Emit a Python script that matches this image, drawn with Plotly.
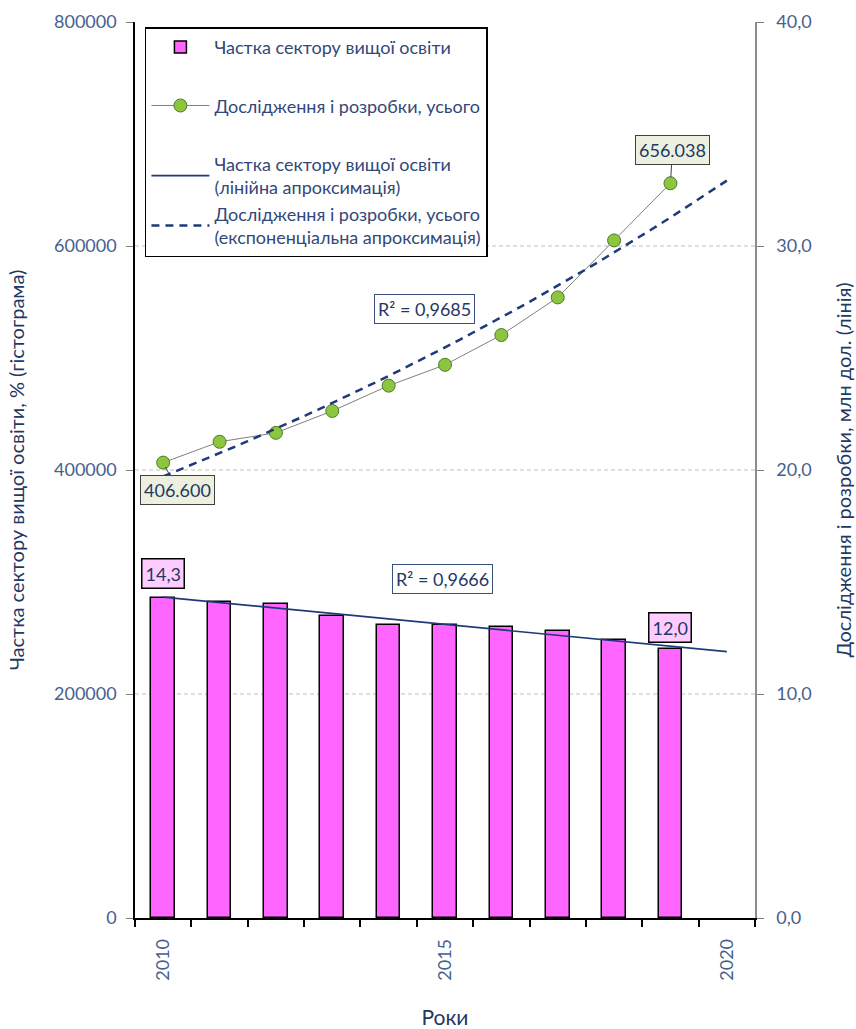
import numpy as np
import plotly.graph_objects as go

# --- data -------------------------------------------------------------
years = [2010, 2011, 2012, 2013, 2014, 2015, 2016, 2017, 2018, 2019]
# share of the higher-education sector, % (bars, right axis)
higher_ed_share = [14.3, 14.1, 14.0, 13.5, 13.1, 13.1, 13.0, 12.8, 12.4, 12.0]
# total R&D (line, left axis)
rnd_total = [406600, 425200, 433200, 452700, 475300, 493900, 520500, 554100, 605000, 656038]

trend_years = [2010, 2020]
r2_linear_text = "R² = 0,9666"
r2_exp_text = "R² = 0,9685"

left_ticks = [0, 200000, 400000, 600000, 800000]
left_grid = [200000, 400000, 600000]
right_ticks = [0, 10, 20, 30, 40]
x_label_years = [2010, 2015, 2020]
x_tick_edges = [2009.5 + i for i in range(12)]

# --- trend lines fitted to the series ---------------------------------
xs = np.array(years, dtype=float)
lin_coef = np.polyfit(xs - years[0], np.array(higher_ed_share), 1)
lin_x = np.array(trend_years, dtype=float)
lin_y = np.polyval(lin_coef, lin_x - years[0])

exp_coef = np.polyfit(xs - years[0], np.log(np.array(rnd_total, dtype=float)), 1)
exp_x = np.linspace(trend_years[0], trend_years[1], 41)
exp_y = np.exp(np.polyval(exp_coef, exp_x - years[0]))

FONT = "Lato"
NAVY = "#1F3864"
TICK = "#475F8E"
LEGEND_TXT = "#33487A"


def pct(v):
    return f"{v:.1f}".replace(".", ",")


def thousands(v):
    return f"{v:,}".replace(",", ".")


fig = go.Figure()

fig.add_trace(go.Bar(
    x=years, y=higher_ed_share, yaxis="y2", width=0.42,
    name="Частка сектору вищої освіти",
    marker=dict(color="#FF66FF", line=dict(color="black", width=1.5)),
    legendgroup="g1",
))
fig.add_trace(go.Scatter(
    x=years, y=rnd_total, mode="lines+markers",
    name="Дослідження і розробки, усього",
    line=dict(color="#7F7F7F", width=1),
    marker=dict(size=13, color="#8CC63F", line=dict(color="#4F7A28", width=1)),
    legendgroup="g2",
))
fig.add_trace(go.Scatter(
    x=lin_x, y=lin_y, yaxis="y2", mode="lines",
    name="Частка сектору вищої освіти<br>(лінійна апроксимація)",
    line=dict(color="#1F3A7A", width=1.6),
    legendgroup="g3",
))
fig.add_trace(go.Scatter(
    x=exp_x, y=exp_y, mode="lines",
    name="Дослідження і розробки, усього<br>(експоненціальна апроксимація)",
    line=dict(color="#1F3A7A", width=2.5, dash="8px,6px"),
    legendgroup="g3",
))

for g in left_grid:
    fig.add_hline(y=g, line=dict(color="#BDBDBD", width=1.2, dash="4px,3px"), layer="below")

lab_font = dict(family=FONT, size=18, color=NAVY)

# value labels
fig.add_annotation(x=years[0], y=higher_ed_share[0], yref="y2", text=pct(higher_ed_share[0]),
                   showarrow=False, yshift=24, font=lab_font,
                   bgcolor="#FFCCFF", bordercolor="black", borderwidth=1.5, borderpad=3)
fig.add_annotation(x=years[-1], y=higher_ed_share[-1], yref="y2", text=pct(higher_ed_share[-1]),
                   showarrow=False, yshift=22, font=lab_font,
                   bgcolor="#FFCCFF", bordercolor="black", borderwidth=1.5, borderpad=3)
fig.add_annotation(x=years[-1], y=rnd_total[-1], yref="y", text=thousands(rnd_total[-1]),
                   showarrow=True, ax=2, ay=-33, arrowhead=0, arrowwidth=1, arrowcolor="#404040",
                   standoff=6, font=lab_font,
                   bgcolor="#EDF0DF", bordercolor="#404040", borderwidth=1, borderpad=3)
fig.add_annotation(x=years[0], y=rnd_total[0], yref="y", text=thousands(rnd_total[0]),
                   showarrow=True, ax=14, ay=27, arrowhead=0, arrowwidth=1, arrowcolor="#404040",
                   standoff=5, font=lab_font,
                   bgcolor="#EDF0DF", bordercolor="#404040", borderwidth=1, borderpad=3)

# goodness-of-fit labels
fig.add_annotation(x=2014.64, y=543400, yref="y", text=r2_exp_text, showarrow=False,
                   font=lab_font, bgcolor="white", bordercolor="#3A5080", borderwidth=1, borderpad=3)
fig.add_annotation(x=2014.96, y=302500, yref="y", text=r2_linear_text, showarrow=False,
                   font=lab_font, bgcolor="white", bordercolor="#3A5080", borderwidth=1, borderpad=3)

fig.update_layout(
    width=856, height=1029,
    margin=dict(l=135, r=101, t=22, b=111, autoexpand=False),
    paper_bgcolor="white", plot_bgcolor="white",
    font=dict(family=FONT, size=18, color=TICK),
    bargap=0,
    showlegend=True,
    legend=dict(
        x=0.016, y=0.994, xanchor="left", yanchor="top",
        bgcolor="white", bordercolor="black", borderwidth=1.5,
        font=dict(family=FONT, size=18, color=LEGEND_TXT),
        tracegroupgap=32, traceorder="grouped", itemwidth=58,
    ),
    xaxis=dict(
        range=[2009.5, 2020.5],
        tickmode="array", tickvals=x_label_years, ticktext=[str(y) for y in x_label_years],
        tickangle=-90, ticks="", ticklabelstandoff=12,
        minor=dict(tickmode="array", tickvals=x_tick_edges, ticks="outside",
                   ticklen=7, tickcolor="black", tickwidth=1.5),
        showline=True, linecolor="black", linewidth=1.5,
        showgrid=False, zeroline=False,
        title=dict(text="Роки", font=dict(family=FONT, size=21, color=NAVY), standoff=36),
        tickfont=dict(family=FONT, size=18, color=TICK),
    ),
    yaxis=dict(
        range=[0, 800000],
        tickmode="array", tickvals=left_ticks, ticktext=[str(v) for v in left_ticks],
        ticks="outside", ticklen=7, tickcolor="#7F7F7F", tickwidth=1.2,
        ticklabelstandoff=6,
        showline=True, linecolor="black", linewidth=1.5,
        showgrid=False, zeroline=False,
        title=dict(text="Частка сектору вищої освіти, % (гістограма)",
                   font=dict(family=FONT, size=20, color=NAVY), standoff=24),
        tickfont=dict(family=FONT, size=18, color=TICK),
    ),
    yaxis2=dict(
        range=[0, 40], overlaying="y", side="right",
        tickmode="array", tickvals=right_ticks, ticktext=[pct(v) for v in right_ticks],
        ticks="outside", ticklen=7, tickcolor="#7F7F7F", tickwidth=1.2,
        ticklabelstandoff=9,
        showline=True, linecolor="#8C8C8C", linewidth=1.5,
        showgrid=False, zeroline=False,
        title=dict(text="Дослідження і розробки, млн дол. (лінія)",
                   font=dict(family=FONT, size=20, color=NAVY), standoff=26),
        tickfont=dict(family=FONT, size=18, color=TICK),
    ),
)

fig.write_html("out.html")
